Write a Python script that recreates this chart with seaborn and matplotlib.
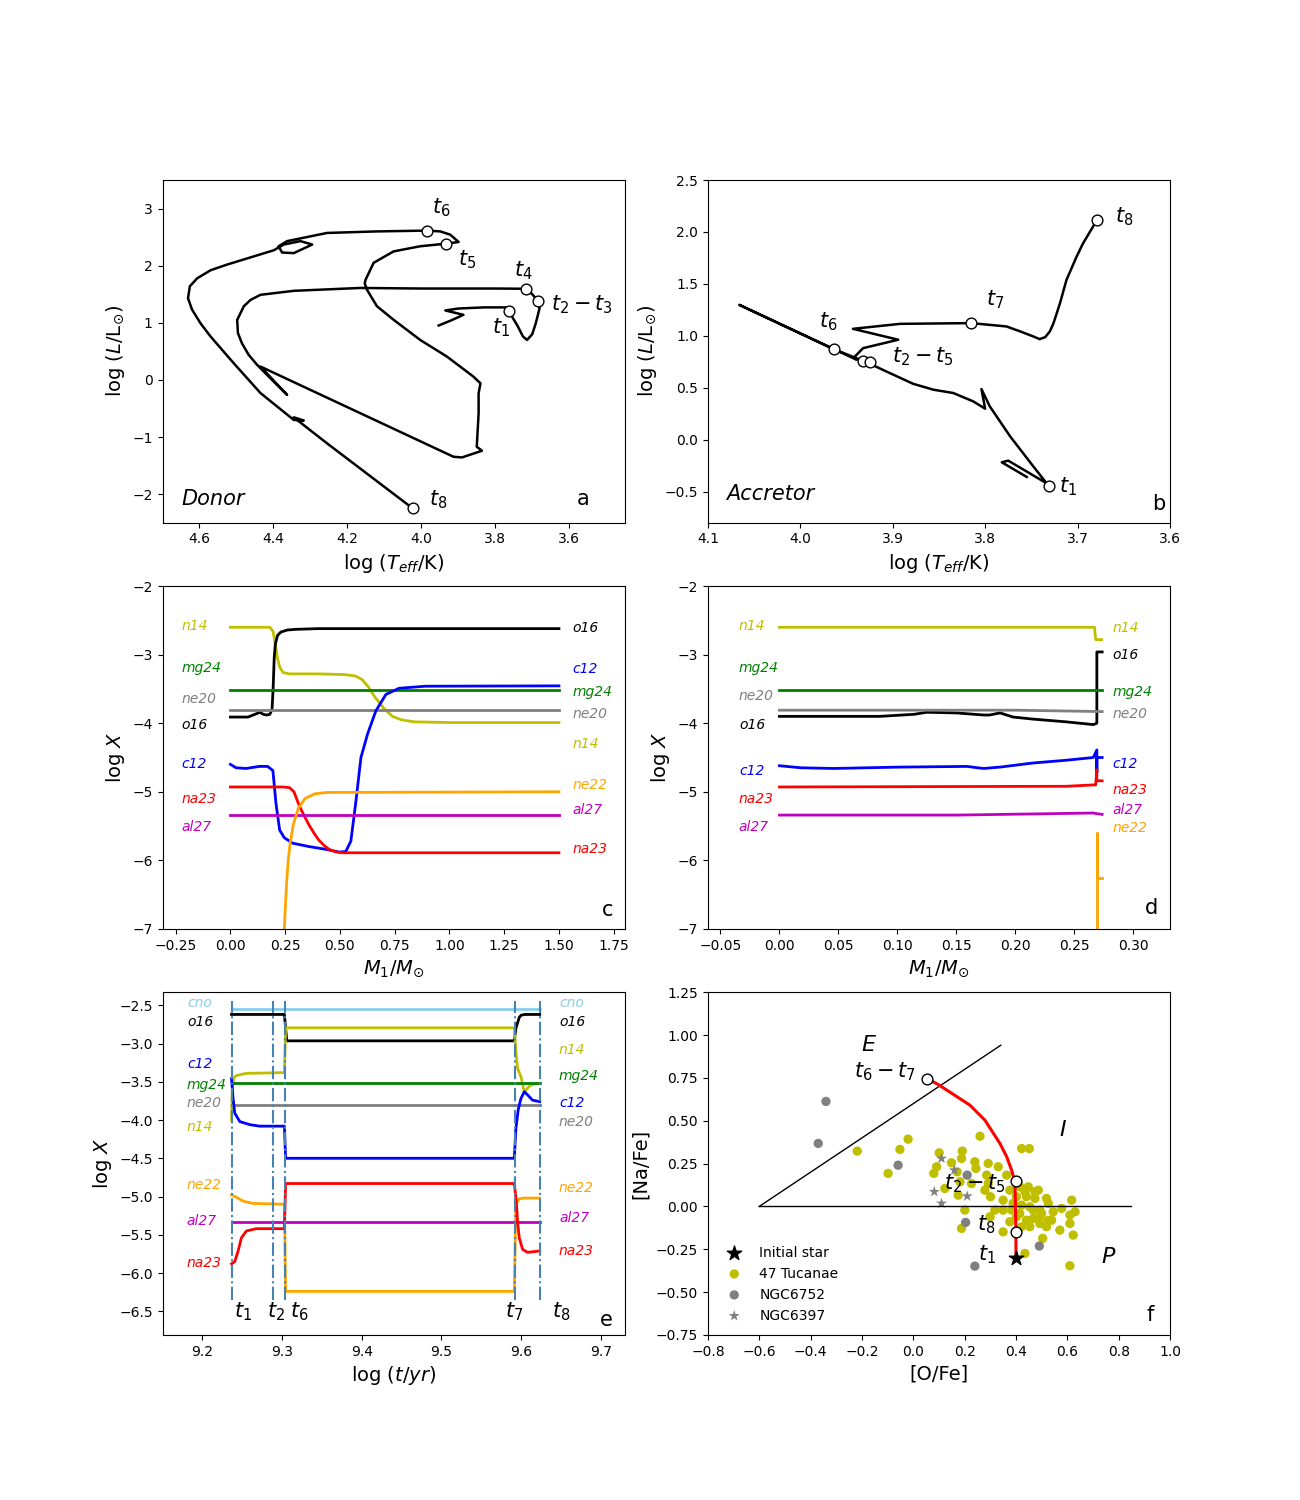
import matplotlib
matplotlib.use("Agg")
import matplotlib.pyplot as plt
import seaborn as sns
import numpy as np

# ---------------- panel a : donor HR track ----------------
donor_logT = [3.953, 3.92, 3.886, 3.935, 3.90, 3.83, 3.768, 3.764, 3.74, 3.725, 3.714, 3.70, 3.69, 3.68,
              3.685, 3.70, 3.716, 3.80, 4.00, 4.165, 4.345, 4.435, 4.462, 4.48, 4.498, 4.496, 4.485, 4.467,
              4.444, 4.363, 4.435, 3.913, 3.89, 3.836, 3.85, 3.845, 3.845, 3.84, 3.859, 3.931, 4.003, 4.075,
              4.12, 4.147, 4.153, 4.151, 4.129, 4.075, 4.003, 3.932, 3.899, 3.922, 3.949, 3.985, 4.12, 4.255,
              4.363, 4.386, 4.3765, 4.345, 4.295, 4.327, 4.372, 4.399, 4.525, 4.57, 4.606, 4.626, 4.631,
              4.62, 4.597, 4.57, 4.507, 4.435, 4.345, 4.318, 4.345, 4.255, 4.023]
donor_logL = [0.953, 1.04, 1.14, 1.216, 1.25, 1.27, 1.27, 1.21, 0.95, 0.76, 0.70, 0.80, 1.00, 1.26,
              1.386, 1.50, 1.596, 1.60, 1.60, 1.61, 1.56, 1.49, 1.40, 1.29, 1.05, 0.82, 0.64, 0.44,
              0.263, -0.263, 0.234, -1.345, -1.357, -1.24, -1.17, -0.585, -0.234, -0.06, 0.058, 0.41, 0.70,
              1.053, 1.29, 1.58, 1.69, 1.75, 2.05, 2.25, 2.34, 2.386, 2.415, 2.544, 2.60, 2.614, 2.60, 2.573,
              2.43, 2.34, 2.23, 2.22, 2.37, 2.43, 2.37, 2.27, 2.02, 1.92, 1.78, 1.64, 1.43,
              1.23, 0.99, 0.76, 0.29, -0.23, -0.70, -0.71, -0.655, -1.11, -2.25]
donor_mark_T = [3.764, 3.685, 3.716, 3.932, 3.985, 4.023]
donor_mark_L = [1.21, 1.386, 1.596, 2.386, 2.614, -2.25]
donor_tags = ["$t_1$", "$t_2-t_3$", "$t_4$", "$t_5$", "$t_6$", "$t_8$"]
donor_tag_T = [3.784, 3.565, 3.724, 3.876, 3.946, 3.954]
donor_tag_L = [0.91, 1.316, 1.91, 2.105, 3.02, -2.105]

# ---------------- panel b : accretor HR track ----------------
acc_logT = [3.755, 3.782, 3.775, 3.733, 3.731, 3.748, 3.773, 3.795, 3.804, 3.800, 3.813, 3.8345, 3.856,
            3.878, 3.907, 3.928, 3.964, 4.066, 3.939, 3.941, 3.932, 3.894, 3.943, 3.892, 3.815, 3.777,
            3.762, 3.748, 3.741, 3.735, 3.730, 3.726, 3.719, 3.712, 3.701, 3.694, 3.679]
acc_logL = [-0.359, -0.218, -0.202, -0.423, -0.449, -0.256, 0.032, 0.321, 0.487, 0.298, 0.369, 0.449, 0.481,
            0.538, 0.657, 0.744, 0.872, 1.298, 0.769, 0.80, 0.881, 0.962, 1.067, 1.115, 1.122, 1.09,
            1.042, 0.994, 0.968, 0.987, 1.042, 1.122, 1.314, 1.538, 1.763, 1.891, 2.115]
acc_mark_T = [3.731, 3.932, 3.925, 3.964, 3.815, 3.679]
acc_mark_L = [-0.449, 0.76, 0.745, 0.872, 1.122, 2.115]
acc_tags = ["$t_1$", "$t_2-t_5$", "$t_6$", "$t_7$", "$t_8$"]
acc_tag_T = [3.71, 3.867, 3.970, 3.789, 3.65]
acc_tag_L = [-0.449, 0.801, 1.138, 1.346, 2.147]

# ---------------- panel c : donor surface abundances ----------------
c_flat_m = [0.0, 1.5]
c_mg24 = [-3.52, -3.52]
c_ne20 = [-3.81, -3.81]
c_al27 = [-5.34, -5.34]
c_n14_m = [0, 0.18, 0.195, 0.205, 0.215, 0.225, 0.24, 0.27, 0.40, 0.52, 0.57, 0.60, 0.63, 0.66, 0.70,
           0.74, 0.78, 0.84, 1.0, 1.5]
c_n14 = [-2.60, -2.60, -2.66, -2.85, -3.05, -3.18, -3.26, -3.28, -3.28, -3.29, -3.31, -3.36, -3.47, -3.62,
         -3.78, -3.90, -3.95, -3.98, -3.99, -3.99]
c_o16_m = [0, 0.08, 0.12, 0.135, 0.15, 0.165, 0.18, 0.19, 0.195, 0.20, 0.205, 0.215, 0.23, 0.26, 0.30, 0.40, 1.5]
c_o16 = [-3.91, -3.91, -3.86, -3.84, -3.87, -3.88, -3.87, -3.80, -3.50, -3.05, -2.85, -2.72, -2.67, -2.64,
         -2.63, -2.62, -2.62]
c_c12_m = [0, 0.026, 0.071, 0.132, 0.17, 0.194, 0.208, 0.225, 0.246, 0.284, 0.36, 0.436, 0.497, 0.527, 0.55,
           0.573, 0.596, 0.626, 0.664, 0.71, 0.77, 0.89, 1.5]
c_c12 = [-4.60, -4.65, -4.66, -4.63, -4.63, -4.69, -5.17, -5.56, -5.67, -5.75, -5.80, -5.84, -5.88, -5.87,
         -5.72, -5.14, -4.50, -4.16, -3.82, -3.58, -3.49, -3.46, -3.455]
c_na23_m = [0, 0.24, 0.27, 0.29, 0.314, 0.34, 0.36, 0.385, 0.405, 0.43, 0.451, 0.48, 0.51, 1.5]
c_na23 = [-4.93, -4.93, -4.94, -5.0, -5.2, -5.37, -5.49, -5.62, -5.71, -5.79, -5.84, -5.875, -5.89, -5.89]
c_ne22_m = [0.243, 0.246, 0.256, 0.264, 0.272, 0.287, 0.31, 0.34, 0.385, 0.44, 1.5]
c_ne22 = [-8.0, -7.0, -6.36, -6.0, -5.77, -5.48, -5.24, -5.10, -5.03, -5.01, -5.0]
c_left_names = ["n14", "mg24", "ne20", "o16", "c12", "na23", "al27"]
c_left_y = [-2.58, -3.20, -3.64, -4.03, -4.59, -5.10, -5.52]
c_right_names = ["o16", "c12", "mg24", "ne20", "n14", "ne22", "al27", "na23"]
c_right_y = [-2.61, -3.21, -3.545, -3.86, -4.30, -4.895, -5.26, -5.83]

# ---------------- panel d : accretor surface abundances ----------------
d_n14_m = [0, 0.267, 0.268, 0.273]
d_n14 = [-2.60, -2.60, -2.78, -2.78]
d_o16_m = [0, 0.085, 0.114, 0.125, 0.15, 0.173, 0.178, 0.187, 0.198, 0.215, 0.243, 0.266, 0.269, 0.269, 0.2735]
d_o16 = [-3.90, -3.90, -3.87, -3.84, -3.85, -3.88, -3.88, -3.85, -3.91, -3.94, -3.98, -4.02, -4.00, -2.96, -2.96]
d_mg24_m = [0, 0.2735]
d_mg24 = [-3.51, -3.51]
d_ne20_m = [0, 0.2, 0.2735]
d_ne20 = [-3.81, -3.81, -3.83]
d_c12_m = [0, 0.018, 0.046, 0.102, 0.159, 0.168, 0.173, 0.187, 0.215, 0.243, 0.266, 0.269, 0.269, 0.269, 0.2735]
d_c12 = [-4.62, -4.65, -4.66, -4.64, -4.63, -4.65, -4.66, -4.64, -4.58, -4.54, -4.50, -4.39, -4.72, -4.50, -4.50]
d_na23_m = [0, 0.243, 0.266, 0.268, 0.269, 0.269, 0.2735]
d_na23 = [-4.93, -4.92, -4.90, -4.90, -4.68, -4.84, -4.84]
d_al27_m = [0, 0.15, 0.266, 0.269, 0.2735]
d_al27 = [-5.34, -5.34, -5.31, -5.32, -5.33]
d_ne22_m = [0.269, 0.269, 0.269, 0.2735]
d_ne22 = [-7.5, -5.60, -6.26, -6.26]
d_left_names = ["n14", "mg24", "ne20", "o16", "c12", "na23", "al27"]
d_left_y = [-2.58, -3.20, -3.60, -4.03, -4.69, -5.10, -5.52]
d_right_names = ["n14", "o16", "mg24", "ne20", "c12", "na23", "al27", "ne22"]
d_right_y = [-2.61, -3.01, -3.55, -3.86, -4.59, -4.97, -5.26, -5.53]

# ---------------- panel e : abundances vs time ----------------
e_times = [9.2366, 9.2893, 9.3042, 9.5923, 9.6234]
e_time_tags = ["$t_1$", "$t_2$", "$t_6$", "$t_7$", "$t_8$"]
e_time_tag_x = [9.2514, 9.2927, 9.3216, 9.591, 9.651]
e_flat_t = [9.2366, 9.6234]
e_cno = [-2.55, -2.55]
e_mg24 = [-3.52, -3.52]
e_ne20 = [-3.81, -3.81]
e_al27 = [-5.33, -5.33]
e_o16_t = [9.2366, 9.303, 9.3045, 9.306, 9.5915, 9.5935, 9.5977, 9.600, 9.605, 9.6234]
e_o16 = [-2.62, -2.62, -2.80, -2.965, -2.965, -2.80, -2.66, -2.63, -2.62, -2.62]
e_n14_t = [9.2366, 9.2372, 9.2380, 9.2395, 9.2425, 9.255, 9.280, 9.303, 9.3045, 9.5915, 9.5935, 9.5956,
           9.5998, 9.604, 9.6122, 9.6234]
e_n14 = [-4.00, -3.72, -3.54, -3.45, -3.42, -3.39, -3.385, -3.38, -2.795, -2.795, -3.11, -3.325, -3.43,
         -3.63, -3.54, -3.52]
e_c12_t = [9.2366, 9.2386, 9.2407, 9.247, 9.2594, 9.2719, 9.303, 9.3045, 9.5915, 9.5935, 9.5965, 9.5998,
           9.604, 9.6081, 9.6143, 9.6234]
e_c12 = [-3.46, -3.72, -3.91, -4.02, -4.06, -4.08, -4.08, -4.50, -4.50, -4.11, -3.86, -3.72, -3.63, -3.67,
         -3.74, -3.76]
e_ne22_t = [9.2366, 9.2428, 9.2511, 9.2635, 9.303, 9.3045, 9.5915, 9.5935, 9.5977, 9.604, 9.6234]
e_ne22 = [-4.98, -5.01, -5.06, -5.09, -5.10, -6.24, -6.24, -5.10, -5.03, -5.02, -5.02]
e_na23_t = [9.2366, 9.2407, 9.2448, 9.2490, 9.2553, 9.2677, 9.303, 9.3045, 9.5915, 9.594, 9.5956, 9.5977,
            9.6019, 9.6081, 9.6164, 9.6234]
e_na23 = [-5.88, -5.85, -5.715, -5.54, -5.45, -5.42, -5.42, -4.83, -4.83, -5.06, -5.33, -5.54, -5.69, -5.73,
          -5.72, -5.71]
e_left_names = ["cno", "o16", "c12", "mg24", "ne20", "n14", "ne22", "al27", "na23"]
e_left_y = [-2.465, -2.717, -3.273, -3.543, -3.78, -4.095, -4.855, -5.316, -5.87]
e_right_names = ["cno", "o16", "n14", "mg24", "c12", "ne20", "ne22", "al27", "na23"]
e_right_y = [-2.465, -2.717, -3.087, -3.42, -3.78, -4.03, -4.89, -5.28, -5.715]

# ---------------- panel f : Na-O anticorrelation ----------------
f_track_ofe = [0.40, 0.40, 0.398, 0.396, 0.383, 0.364, 0.3375, 0.279, 0.221, 0.097, 0.055]
f_track_nafe = [-0.30, -0.15, 0.0, 0.145, 0.212, 0.29, 0.368, 0.504, 0.591, 0.712, 0.745]
f_mark_ofe = [0.055, 0.40, 0.40]
f_mark_nafe = [0.745, 0.148, -0.151]
f_init_ofe = [0.40]
f_init_nafe = [-0.30]
tuc_ofe = [-0.218, -0.052, -0.020, -0.098, 0.260, 0.422, 0.452, 0.101, 0.191, 0.188, 0.149, 0.240, 0.244,
           0.292, 0.331, 0.091, 0.080, 0.171, 0.182, 0.123, 0.227, 0.286, 0.292, 0.279, 0.301, 0.175,
           0.364, 0.376, 0.350, 0.415, 0.448, 0.487, 0.441, 0.474, 0.519, 0.422, 0.454, 0.493, 0.526,
           0.545, 0.578, 0.617, 0.630, 0.610, 0.318, 0.350, 0.201, 0.299, 0.415, 0.441, 0.467, 0.493,
           0.519, 0.454, 0.422, 0.571, 0.610, 0.623, 0.350, 0.188, 0.504, 0.435, 0.610, 0.389, 0.402,
           0.376, 0.493, 0.539, 0.435, 0.383, 0.474, 0.402, 0.500, 0.526, 0.467]
tuc_nafe = [0.323, 0.333, 0.393, 0.193, 0.410, 0.338, 0.338, 0.313, 0.323, 0.280, 0.255, 0.261, 0.222,
            0.251, 0.232, 0.232, 0.193, 0.202, 0.144, 0.105, 0.134, 0.183, 0.134, 0.095, 0.057, 0.066,
            0.183, 0.095, 0.037, 0.115, 0.115, 0.095, 0.057, 0.047, 0.047, 0.008, -0.002, -0.021, 0.018,
            -0.031, -0.011, 0.037, -0.031, -0.050, -0.021, -0.021, -0.021, -0.060, -0.041, -0.080, -0.070, -0.099,
            -0.118, -0.118, -0.118, -0.138, -0.099, -0.167, -0.148, -0.128, -0.186, -0.274, -0.346, 0.018, -0.060,
            -0.089, -0.060, -0.080, 0.086, -0.021, 0.086, 0.057, -0.041, -0.080, -0.021]
ngc6752_ofe = [-0.34, -0.37, -0.059, 0.21, 0.204, 0.491, 0.24]
ngc6752_nafe = [0.613, 0.368, 0.241, 0.183, -0.093, -0.231, -0.348]
ngc6397_ofe = [0.11, 0.16, 0.082, 0.21, 0.11]
ngc6397_nafe = [0.28, 0.212, 0.086, 0.06, 0.018]
f_tags = ["$t_6-t_7$", "$t_2-t_5$", "$t_8$", "$t_1$"]
f_tag_ofe = [-0.11, 0.24, 0.286, 0.286]
f_tag_nafe = [0.785, 0.135, -0.109, -0.283]
f_regions = ["$E$", "$I$", "$P$"]
f_region_ofe = [-0.172, 0.582, 0.76]
f_region_nafe = [0.941, 0.445, -0.293]

colours = {"n14": "y", "o16": "k", "mg24": "g", "ne20": "grey", "c12": "b", "na23": "r",
           "al27": "m", "ne22": "orange", "cno": "skyblue"}


def track(ax, x, y, color, lw=2.0):
    sns.lineplot(x=x, y=y, color=color, lw=lw, sort=False, estimator=None, ax=ax)


def species_tags(ax, x, names, ys):
    for n, yy in zip(names, ys):
        ax.text(x, yy, n, color=colours[n], fontsize=10, style="italic", ha="left", va="center")


def circles(ax, x, y):
    sns.scatterplot(x=x, y=y, s=60, facecolor="white", edgecolor="black", linewidth=1.0, zorder=5, ax=ax)


fig, axs = plt.subplots(3, 2, figsize=(13, 15))
fig.subplots_adjust(wspace=0.18, hspace=0.185)

# a
ax = axs[0, 0]
track(ax, donor_logT, donor_logL, "k", 1.8)
circles(ax, donor_mark_T, donor_mark_L)
for s, xx, yy in zip(donor_tags, donor_tag_T, donor_tag_L):
    ax.text(xx, yy, s, fontsize=15, ha="center", va="center")
ax.set_xlim(4.7, 3.45)
ax.set_ylim(-2.5, 3.5)
ax.set_xticks(np.arange(4.6, 3.55, -0.2))
ax.set_yticks(range(-2, 4))
ax.set_xlabel("log ($T_{eff}$/K)", fontsize=14)
ax.set_ylabel(r"log ($L/\mathrm{L}_{\odot}$)", fontsize=14)
ax.text(0.04, 0.07, "Donor", transform=ax.transAxes, fontsize=15, style="italic", va="center")
ax.text(0.91, 0.07, "a", transform=ax.transAxes, fontsize=15, ha="center", va="center")

# b
ax = axs[0, 1]
track(ax, acc_logT, acc_logL, "k", 1.8)
circles(ax, acc_mark_T, acc_mark_L)
for s, xx, yy in zip(acc_tags, acc_tag_T, acc_tag_L):
    ax.text(xx, yy, s, fontsize=15, ha="center", va="center")
ax.set_xlim(4.1, 3.6)
ax.set_ylim(-0.8, 2.5)
ax.set_xticks(np.arange(4.1, 3.55, -0.1))
ax.set_yticks(np.arange(-0.5, 2.6, 0.5))
ax.set_xlabel("log ($T_{eff}$/K)", fontsize=14)
ax.set_ylabel(r"log ($L/\mathrm{L}_{\odot}$)", fontsize=14)
ax.text(0.04, 0.085, "Accretor", transform=ax.transAxes, fontsize=15, style="italic", va="center")
ax.text(0.975, 0.055, "b", transform=ax.transAxes, fontsize=15, ha="center", va="center")

# c
ax = axs[1, 0]
track(ax, c_n14_m, c_n14, colours["n14"])
track(ax, c_o16_m, c_o16, colours["o16"])
track(ax, c_flat_m, c_mg24, colours["mg24"])
track(ax, c_flat_m, c_ne20, colours["ne20"])
track(ax, c_c12_m, c_c12, colours["c12"])
track(ax, c_na23_m, c_na23, colours["na23"])
track(ax, c_flat_m, c_al27, colours["al27"])
track(ax, c_ne22_m, c_ne22, colours["ne22"])
species_tags(ax, -0.225, c_left_names, c_left_y)
species_tags(ax, 1.561, c_right_names, c_right_y)
ax.set_xlim(-0.31, 1.80)
ax.set_ylim(-7, -2)
ax.set_xticks(np.arange(-0.25, 1.8, 0.25))
ax.set_xlabel(r"$M_1/M_{\odot}$", fontsize=14)
ax.set_ylabel("log $X$", fontsize=14)
ax.text(0.964, 0.056, "c", transform=ax.transAxes, fontsize=15, ha="center", va="center")

# d
ax = axs[1, 1]
track(ax, d_n14_m, d_n14, colours["n14"])
track(ax, d_o16_m, d_o16, colours["o16"])
track(ax, d_mg24_m, d_mg24, colours["mg24"])
track(ax, d_ne20_m, d_ne20, colours["ne20"])
track(ax, d_c12_m, d_c12, colours["c12"])
track(ax, d_na23_m, d_na23, colours["na23"])
track(ax, d_al27_m, d_al27, colours["al27"])
track(ax, d_ne22_m, d_ne22, colours["ne22"])
species_tags(ax, -0.0344, d_left_names, d_left_y)
species_tags(ax, 0.2824, d_right_names, d_right_y)
ax.set_xlim(-0.0607, 0.331)
ax.set_ylim(-7, -2)
ax.set_xticks(np.arange(-0.05, 0.31, 0.05))
ax.set_xlabel(r"$M_1/M_{\odot}$", fontsize=14)
ax.set_ylabel("log $X$", fontsize=14)
ax.text(0.96, 0.06, "d", transform=ax.transAxes, fontsize=15, ha="center", va="center")

# e
ax = axs[2, 0]
track(ax, e_flat_t, e_cno, colours["cno"])
track(ax, e_o16_t, e_o16, colours["o16"])
track(ax, e_n14_t, e_n14, colours["n14"])
track(ax, e_flat_t, e_mg24, colours["mg24"])
track(ax, e_flat_t, e_ne20, colours["ne20"])
track(ax, e_c12_t, e_c12, colours["c12"])
track(ax, e_ne22_t, e_ne22, colours["ne22"])
track(ax, e_flat_t, e_al27, colours["al27"])
track(ax, e_na23_t, e_na23, colours["na23"])
ax.vlines(e_times, -6.35, -2.45, colors="steelblue", linestyles="-.", lw=1.5)
for s, xx in zip(e_time_tags, e_time_tag_x):
    ax.text(xx, -6.5, s, fontsize=15, ha="center", va="center")
species_tags(ax, 9.1806, e_left_names, e_left_y)
species_tags(ax, 9.6476, e_right_names, e_right_y)
ax.set_xlim(9.15, 9.73)
ax.set_ylim(-6.81, -2.33)
ax.set_xticks(np.arange(9.2, 9.71, 0.1))
ax.set_yticks(np.arange(-6.5, -2.4, 0.5))
ax.set_xlabel("log ($t/yr$)", fontsize=14)
ax.set_ylabel("log $X$", fontsize=14)
ax.text(0.96, 0.044, "e", transform=ax.transAxes, fontsize=15, ha="center", va="center")

# f
ax = axs[2, 1]
ax.plot([-0.6, 0.85], [0, 0], color="k", lw=1)
ax.plot([-0.6, 0.341], [0, 0.941], color="k", lw=1)
track(ax, f_track_ofe, f_track_nafe, "r", 2.2)
sns.scatterplot(x=f_init_ofe, y=f_init_nafe, marker="*", s=120, color="k", edgecolor="k",
                label="Initial star", zorder=6, ax=ax)
sns.scatterplot(x=tuc_ofe, y=tuc_nafe, s=45, color="y", edgecolor="none", label="47 Tucanae", ax=ax)
sns.scatterplot(x=ngc6752_ofe, y=ngc6752_nafe, s=45, color="grey", edgecolor="none", label="NGC6752", ax=ax)
sns.scatterplot(x=ngc6397_ofe, y=ngc6397_nafe, marker="*", s=70, color="grey", edgecolor="none",
                label="NGC6397", ax=ax)
circles(ax, f_mark_ofe, f_mark_nafe)
for s, xx, yy in zip(f_tags, f_tag_ofe, f_tag_nafe):
    ax.text(xx, yy, s, fontsize=15, ha="center", va="center", zorder=7)
for s, xx, yy in zip(f_regions, f_region_ofe, f_region_nafe):
    ax.text(xx, yy, s, fontsize=16, ha="center", va="center")
ax.set_xlim(-0.8, 1.0)
ax.set_ylim(-0.75, 1.25)
ax.set_xticks(np.arange(-0.8, 1.01, 0.2))
ax.set_yticks(np.arange(-0.75, 1.26, 0.25))
ax.set_xlabel("[O/Fe]", fontsize=14)
ax.set_ylabel("[Na/Fe]", fontsize=14)
ax.legend(loc="lower left", frameon=False, fontsize=10)
ax.text(0.957, 0.058, "f", transform=ax.transAxes, fontsize=15, ha="center", va="center")

fig.savefig("out.png", dpi=100)
